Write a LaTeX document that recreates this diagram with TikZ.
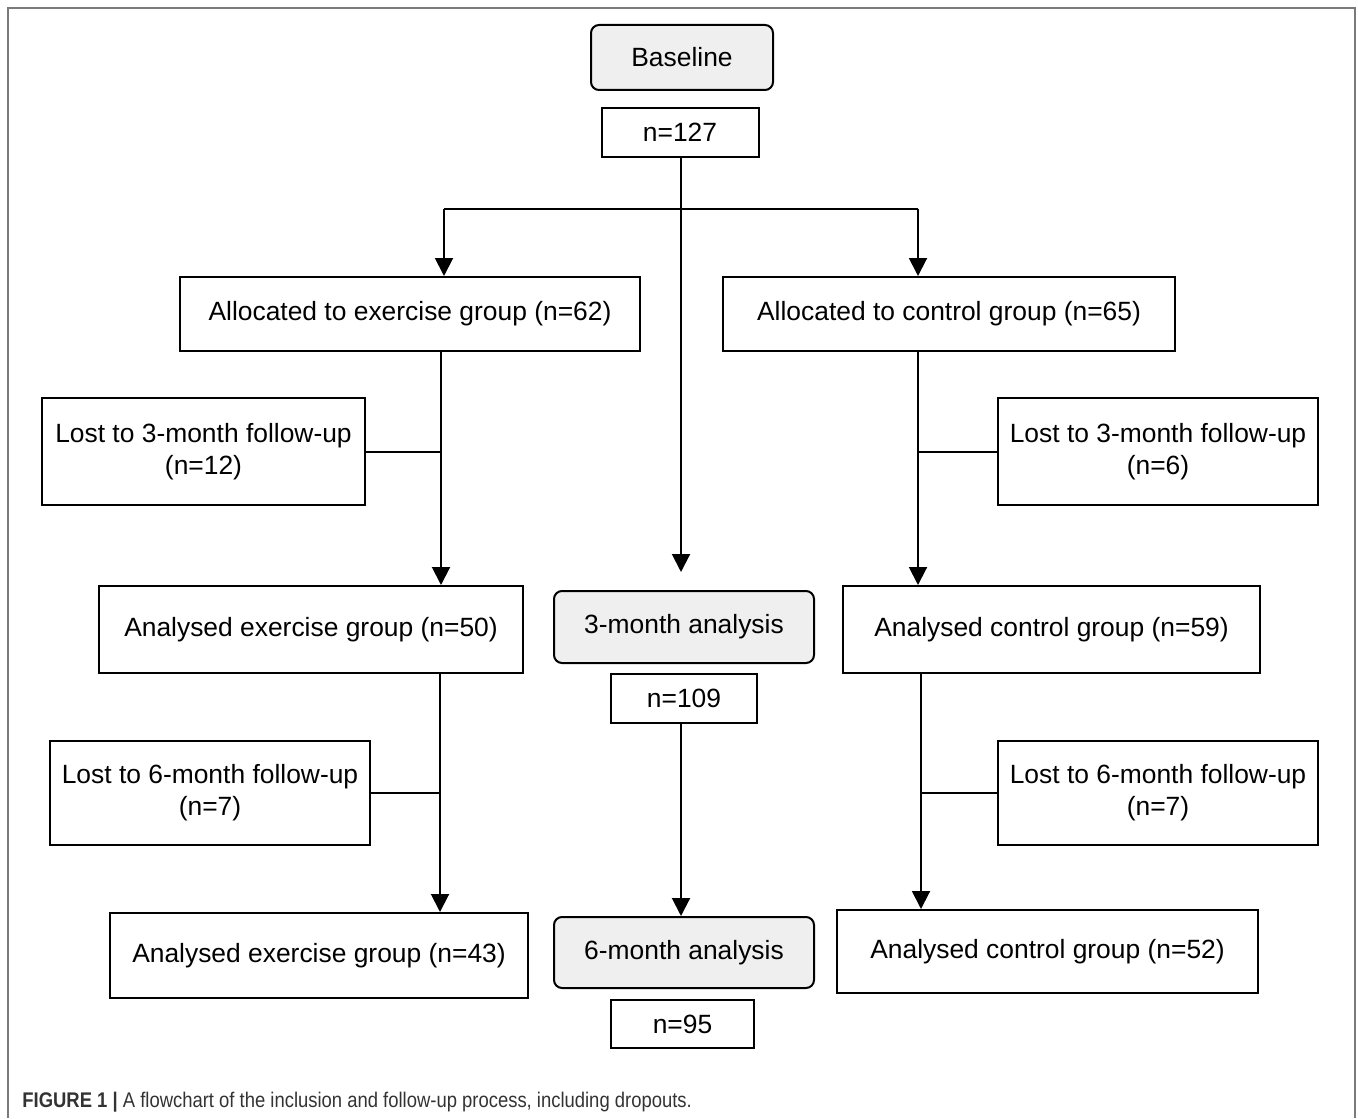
\documentclass[tikz,border=0pt]{standalone}
\usepackage{fontspec}
\setmainfont{Liberation Sans}
\newfontfamily\capfont[FakeStretch=0.87]{Liberation Sans}
\usetikzlibrary{arrows.meta,calc}
\definecolor{framegray}{HTML}{7A7A7A}
\definecolor{boxgray}{HTML}{EFEFEF}
\definecolor{captext}{HTML}{333333}
\begin{document}
\begin{tikzpicture}[x=0.5pt,y=-0.5pt,
  box/.style={draw, line width=1pt, inner sep=0pt, align=center,
    font=\fontsize{13.2}{16}\selectfont},
  gbox/.style={box, fill=boxgray, rounded corners=4pt},
  conn/.style={line width=1pt},
  arr/.style={conn, -{Triangle[width=9pt,length=9pt]}}]
\useasboundingbox (0,0) rectangle (1358,1118);
% outer frame
\draw[framegray, line width=1pt] (8,1118) -- (8,8) -- (1355,8) -- (1355,1118);

% centre column
\node[gbox, minimum width=91pt, minimum height=32.5pt] (base) at (682,57.5) {Baseline};
\node[box, minimum width=78.5pt, minimum height=24.5pt] (n127) at (680,132.5) {n=127};
\node[gbox, minimum width=130pt, minimum height=36pt] (m3) at (684,627) {\raisebox{2.5pt}{3-month analysis}};
\node[box, minimum width=73pt, minimum height=24.5pt] (n109) at (684,698.5) {n=109};
\node[gbox, minimum width=130pt, minimum height=35.5pt] (m6) at (684,952.5) {\raisebox{2.5pt}{6-month analysis}};
\node[box, minimum width=71.5pt, minimum height=24pt] (n95) at (682.5,1024) {n=95};

% left column
\node[box, minimum width=230pt, minimum height=37pt] (allocEx) at (410,314) {Allocated to exercise group (n=62)};
\node[box, minimum width=161.5pt, minimum height=53.5pt] (lost3L) at (203.5,451.5) {Lost to 3-month follow-up\\(n=12)};
\node[box, minimum width=212pt, minimum height=43.5pt] (anEx50) at (311,629.5) {Analysed exercise group (n=50)};
\node[box, minimum width=160pt, minimum height=52pt] (lost6L) at (210,793) {Lost to 6-month follow-up\\(n=7)};
\node[box, minimum width=209pt, minimum height=42.5pt] (anEx43) at (319,955.5) {Analysed exercise group (n=43)};

% right column
\node[box, minimum width=226pt, minimum height=37pt] (allocCt) at (949,314) {Allocated to control group (n=65)};
\node[box, minimum width=160pt, minimum height=53.5pt] (lost3R) at (1158,451.5) {Lost to 3-month follow-up\\(n=6)};
\node[box, minimum width=208.5pt, minimum height=43.5pt] (anCt59) at (1051.5,629.5) {Analysed control group (n=59)};
\node[box, minimum width=160pt, minimum height=52pt] (lost6R) at (1158,793) {Lost to 6-month follow-up\\(n=7)};
\node[box, minimum width=210.5pt, minimum height=41.5pt] (anCt52) at (1047.5,951.5) {Analysed control group (n=52)};

% connector coordinates
\coordinate (splitL) at (444,209);
\coordinate (splitR) at (918,209);
\coordinate (colL) at (441,0);
\coordinate (colR) at (918,0);
\coordinate (colL2) at (440,0);
\coordinate (colR2) at (921,0);
\coordinate (midC) at (681,0);

% top split
\draw[arr, shorten >=9pt] (n127.south -| midC) -- (m3.north -| midC);
\draw[conn] (splitL) -- (splitR);
\draw[arr] (splitL) -- (splitL |- allocEx.north);
\draw[arr] (splitR) -- (splitR |- allocCt.north);

% 3-month stage
\draw[arr] (allocEx.south -| colL) -- (anEx50.north -| colL);
\draw[arr] (allocCt.south -| colR) -- (anCt59.north -| colR);
\draw[conn] (lost3L.east) -- (lost3L.east -| colL);
\draw[conn] (lost3R.west) -- (lost3R.west -| colR);

% 6-month stage
\draw[arr] (anEx50.south -| colL2) -- (anEx43.north -| colL2);
\draw[arr] (anCt59.south -| colR2) -- (anCt52.north -| colR2);
\draw[conn] (lost6L.east) -- (lost6L.east -| colL2);
\draw[conn] (lost6R.west) -- (lost6R.west -| colR2);
\draw[arr] (n109.south -| midC) -- (m6.north -| midC);

% caption
\node[anchor=base west, inner sep=0pt, text=captext, font=\capfont\fontsize{10.6}{12}\selectfont] (cap) at (22,1107)
  {\textbf{FIGURE 1 |} A flowchart of the inclusion and follow-up process, including dropouts.};
\end{tikzpicture}
\end{document}
